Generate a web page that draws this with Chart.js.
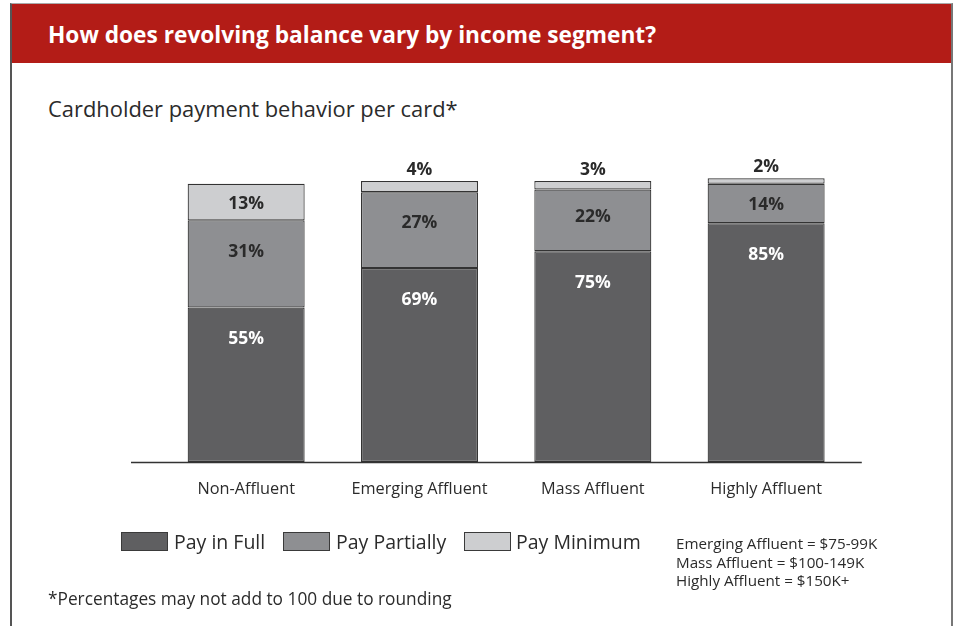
<!DOCTYPE html>
<html>
<head>
<meta charset="utf-8">
<script src="https://cdn.jsdelivr.net/npm/chart.js@4/dist/chart.umd.min.js"></script>
<style>
  html, body { margin: 0; padding: 0; background: #fff; }
  body { width: 954px; height: 626px; overflow: hidden; position: relative; font-family: "Open Sans", sans-serif; }
  #frame { position: absolute; left: 10px; top: 3px; width: 939px; height: 700px; border-left: 2px solid #555; border-right: 2px solid #777; border-top: 1px solid #aaa; }
  #header { position: absolute; left: 12px; top: 4px; width: 939px; height: 59px; background: #b31c17; }
  #title { position: absolute; left: 48px; top: 19px; color: #fff; font-weight: 700; font-size: 22.7px; line-height: 32px; white-space: nowrap; }
  #subtitle { position: absolute; left: 48px; top: 93px; color: #2b2b2b; font-size: 21.9px; line-height: 32px; font-weight: 400; white-space: nowrap; }
  canvas { position: absolute; left: 0; top: 0; }
  .lg-box { position: absolute; top: 532px; width: 45px; height: 17px; border: 1px solid #3a3a3a; }
  .lg-txt { position: absolute; top: 527px; font-size: 19.5px; line-height: 30px; color: #2b2b2b; white-space: nowrap; }
  #note { position: absolute; left: 676px; top: 534px; font-size: 15.2px; line-height: 18.5px; color: #2b2b2b; white-space: nowrap; }
  #foot { position: absolute; left: 48px; top: 586px; font-size: 17.3px; line-height: 26px; color: #2b2b2b; white-space: nowrap; }
</style>
</head>
<body>
<div id="frame"></div>
<div id="header"></div>
<div id="title">How does revolving balance vary by income segment?</div>
<div id="subtitle">Cardholder payment behavior per card*</div>
<canvas id="c" width="954" height="626"></canvas>
<div id="legend"></div>
<div id="note">Emerging Affluent = $75-99K<br>Mass Affluent = $100-149K<br>Highly Affluent = $150K+</div>
<div id="foot">*Percentages may not add to 100 due to rounding</div>
<script>
const categories = ["Non-Affluent", "Emerging Affluent", "Mass Affluent", "Highly Affluent"];
const seriesNames = ["Pay in Full", "Pay Partially", "Pay Minimum"];
const payInFull = [55, 69, 75, 85];
const payPartially = [31, 27, 22, 14];
const payMinimum = [13, 4, 3, 2];

const colors = ["#5f5f61", "#8e8f92", "#cdced0"];
const labelColors = ["#ffffff", "#2a2a2a", "#2a2a2a"];

// HTML legend
const legendPos = [[121, 174], [283, 336], [464, 516]];
const legendEl = document.getElementById("legend");
seriesNames.forEach((n, i) => {
  const b = document.createElement("div");
  b.className = "lg-box"; b.style.left = legendPos[i][0] + "px"; b.style.background = colors[i];
  const t = document.createElement("div");
  t.className = "lg-txt"; t.style.left = legendPos[i][1] + "px"; t.textContent = n;
  legendEl.appendChild(b); legendEl.appendChild(t);
});

const valueLabels = {
  id: "valueLabels",
  afterDatasetsDraw(chart) {
    const ctx = chart.ctx;
    ctx.save();
    ctx.font = "700 17.5px 'Open Sans'";
    ctx.textAlign = "center";
    ctx.textBaseline = "middle";
    chart.data.datasets.forEach((ds, i) => {
      const meta = chart.getDatasetMeta(i);
      meta.data.forEach((el, j) => {
        const v = ds.data[j];
        const p = el.getProps(["x", "y", "base"], true);
        const h = p.base - p.y;
        let ty, col;
        if (v < 5) { ty = p.y - 11; col = "#2a2a2a"; }
        else { ty = p.y + 2 + Math.min(h / 2, 12 + 0.22 * h, 30); col = labelColors[i]; }
        ctx.fillStyle = col;
        ctx.fillText(v + "%", p.x, ty);
      });
    });
    ctx.restore();
  }
};

const baseline = {
  id: "baseline",
  afterDatasetsDraw(chart) {
    const ctx = chart.ctx;
    const y0 = chart.scales.y.getPixelForValue(0);
    const a = chart.chartArea;
    ctx.save();
    ctx.strokeStyle = "#333";
    ctx.lineWidth = 1.5;
    ctx.beginPath();
    ctx.moveTo(a.left - 28.5, y0 + 0.5);
    ctx.lineTo(a.right + 9, y0 + 0.5);
    ctx.stroke();
    ctx.restore();
  }
};

const dataSeries = [payInFull, payPartially, payMinimum];
new Chart(document.getElementById("c"), {
  type: "bar",
  data: {
    labels: categories,
    datasets: dataSeries.map((d, i) => ({
      label: seriesNames[i],
      data: d,
      backgroundColor: colors[i],
      borderColor: "#333333",
      borderWidth: 1.2,
      borderSkipped: false,
      categoryPercentage: 0.675,
      barPercentage: 1,
      clip: false
    }))
  },
  options: {
    responsive: false,
    animation: false,
    layout: { padding: { top: 181, bottom: 124, left: 159.5, right: 101.2 } },
    plugins: { legend: { display: false }, tooltip: { enabled: false }, title: { display: false } },
    scales: {
      x: {
        stacked: true,
        grid: { display: false, drawTicks: false },
        border: { display: false },
        afterFit(s) { s.height = 40; },
        ticks: { color: "#2b2b2b", font: { family: "'Open Sans'", size: 16.3 }, padding: 18 }
      },
      y: {
        stacked: true,
        display: false,
        min: 0,
        max: 100
      }
    }
  },
  plugins: [valueLabels, baseline]
});
</script>
</body>
</html>
